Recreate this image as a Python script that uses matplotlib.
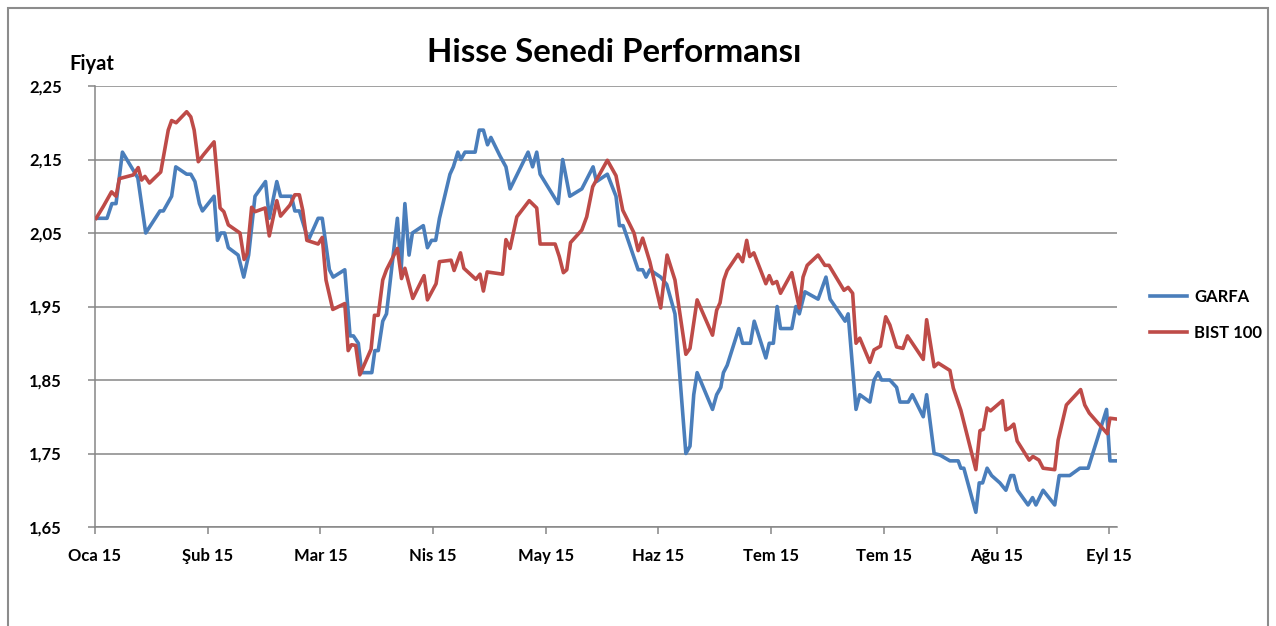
import matplotlib
matplotlib.use("Agg")
import matplotlib.pyplot as plt
from matplotlib.patches import Rectangle
from matplotlib.lines import Line2D

plt.rcParams['font.family'] = ['Lato', 'DejaVu Sans']

# x values are days counted from the start of January 2015
garfa_day = [0.3, 3.2, 4.5, 5.6, 7.3, 11.4, 13.5, 17.3, 18.2, 20.4, 21.5, 24.4, 25.5, 26.6,
             27.8, 28.6, 31.7, 32.6, 33.5, 34.5, 35.5, 38.1, 39.6, 40.9, 42.6, 45.4, 46.4,
             48.4, 49.4, 52.3, 53.2, 54.4, 56.8, 59.4, 60.5, 62.4, 63.4, 66.5, 67.9, 68.8,
             70.1, 71.0, 73.7, 74.5, 75.4, 76.6, 77.6, 80.5, 81.5, 82.5, 83.6, 84.5, 87.4,
             88.5, 89.6, 90.7, 91.7, 94.5, 95.4, 96.6, 97.4, 98.5, 101.2, 102.3, 103.4,
             104.5, 105.4, 107.8, 109.4, 110.5, 115.3, 116.5, 117.6, 118.5, 123.3, 124.5,
             126.4, 129.6, 132.6, 133.5, 136.4, 138.7, 139.6, 140.6, 144.6, 145.8, 146.7,
             147.7, 150.6, 152.2, 154.4, 157.3, 158.4, 159.4, 160.3, 164.4, 165.5, 166.6,
             167.3, 168.3, 171.4, 172.4, 174.5, 175.5, 178.6, 179.5, 180.6, 181.6, 182.5,
             185.5, 186.6, 187.5, 189.0, 192.5, 194.6, 195.7, 199.7, 200.5, 202.6, 203.6,
             206.3, 207.4, 208.5, 209.4, 211.6, 213.4, 214.3, 216.5, 217.6, 220.5, 221.4,
             223.4, 224.9, 227.6, 229.8, 230.5, 231.3, 234.5, 235.4, 236.3, 237.5, 238.7,
             240.9, 242.5, 243.8, 244.6, 245.6, 248.4, 249.6, 250.5, 252.4, 255.5, 256.7,
             259.5, 262.2, 264.4, 269.3, 270.2, 271.8]
garfa_val = [2.07, 2.07, 2.09, 2.09, 2.16, 2.125, 2.05, 2.08, 2.08, 2.10, 2.14, 2.13, 2.13, 2.12,
             2.09, 2.08, 2.10, 2.04, 2.05, 2.05, 2.03, 2.02, 1.99, 2.02, 2.10, 2.12, 2.07,
             2.12, 2.10, 2.10, 2.08, 2.08, 2.04, 2.07, 2.07, 2.00, 1.99, 2.00, 1.91, 1.91,
             1.90, 1.86, 1.86, 1.89, 1.89, 1.93, 1.94, 2.07, 2.00, 2.09, 2.02, 2.05, 2.06,
             2.03, 2.04, 2.04, 2.07, 2.13, 2.14, 2.16, 2.15, 2.16, 2.16, 2.19, 2.19,
             2.17, 2.18, 2.155, 2.14, 2.11, 2.16, 2.14, 2.16, 2.13, 2.09, 2.15,
             2.10, 2.11, 2.14, 2.12, 2.13, 2.10, 2.06, 2.06, 2.00, 2.00, 1.99,
             2.00, 1.99, 1.98, 1.94, 1.75, 1.76, 1.83, 1.86, 1.81, 1.83, 1.84,
             1.86, 1.87, 1.92, 1.90, 1.90, 1.93, 1.88, 1.90, 1.90, 1.95, 1.92,
             1.92, 1.95, 1.94, 1.97, 1.96, 1.99, 1.96, 1.93, 1.94, 1.81, 1.83,
             1.82, 1.85, 1.86, 1.85, 1.85, 1.84, 1.82, 1.82, 1.83, 1.80, 1.83,
             1.75, 1.748, 1.74, 1.74, 1.73, 1.73, 1.67, 1.71, 1.71, 1.73, 1.72,
             1.71, 1.70, 1.72, 1.72, 1.70, 1.68, 1.69, 1.68, 1.70, 1.68, 1.72,
             1.72, 1.73, 1.73, 1.81, 1.74, 1.74]

bist_day = [0.3, 2.2, 4.4, 5.6, 6.5, 10.2, 11.5, 12.4, 13.3, 14.5, 17.5, 19.5, 20.4, 21.6,
            24.4, 25.5, 26.4, 27.5, 28.8, 31.7, 33.3, 34.3, 35.5, 38.6, 39.7, 40.5, 41.7,
            42.6, 45.3, 46.4, 48.4, 49.4, 51.9, 53.2, 54.4, 55.3, 56.4, 59.4, 60.5, 61.5,
            63.3, 66.5, 67.4, 68.3, 69.4, 70.5, 73.5, 74.4, 75.4, 76.6, 77.6, 80.5, 81.6,
            82.5, 84.6, 87.6, 88.5, 90.8, 91.7, 94.8, 95.6, 97.3, 98.2, 101.4, 102.5,
            103.4, 104.4, 108.5, 109.4, 110.5, 112.3, 115.6, 117.6, 118.5, 122.5, 123.6,
            124.7, 125.6, 126.6, 129.6, 130.9, 132.5, 136.4, 138.7, 140.5, 143.5, 144.6,
            145.8, 147.7, 150.6, 152.3, 154.4, 157.3, 158.4, 160.3, 164.4, 165.5, 166.4,
            167.4, 168.3, 171.2, 172.4, 173.5, 174.3, 175.4, 178.6, 179.5, 180.4, 181.5,
            182.5, 185.5, 187.5, 188.5, 189.6, 192.5, 194.3, 195.4, 199.4, 200.5, 201.7,
            202.6, 203.6, 206.3, 207.4, 209.1, 210.5, 211.6, 213.4, 215.1, 216.3, 220.5,
            221.4, 223.4, 224.5, 227.6, 228.5, 230.5, 234.5, 235.6, 236.5, 237.5, 238.4,
            241.6, 242.5, 243.6, 244.6, 245.5, 248.7, 249.7, 251.3, 252.4, 255.5, 256.4,
            258.6, 262.4, 263.5, 264.7, 269.5, 270.2, 271.8]
bist_val = [2.07, 2.086, 2.106, 2.10, 2.124, 2.129, 2.139, 2.122, 2.127, 2.118, 2.133, 2.19,
            2.203, 2.20, 2.215, 2.208, 2.19, 2.147, 2.156, 2.174, 2.084, 2.079, 2.061, 2.05,
            2.014, 2.022, 2.085, 2.079, 2.084, 2.046, 2.094, 2.073, 2.088, 2.102, 2.102,
            2.081, 2.04, 2.035, 2.044, 1.986, 1.946, 1.954, 1.89, 1.898, 1.897, 1.857,
            1.892, 1.938, 1.938, 1.986, 2.00, 2.029, 1.988, 2.002, 1.961, 1.992, 1.959,
            1.981, 2.011, 2.013, 1.999, 2.023, 2.002, 1.987, 1.994, 1.971, 1.997, 1.994,
            2.041, 2.029, 2.072, 2.094, 2.084, 2.035, 2.035, 2.018, 1.996, 2.00, 2.037,
            2.054, 2.072, 2.113, 2.149, 2.128, 2.081, 2.05, 2.026, 2.043, 2.011, 1.948,
            2.02, 1.986, 1.885, 1.893, 1.959, 1.911, 1.945, 1.955, 1.986, 1.999, 2.021,
            2.011, 2.04, 2.018, 2.023, 1.981, 1.992, 1.981, 1.984, 1.968, 1.996, 1.948,
            1.99, 2.006, 2.02, 2.006, 2.006, 1.972, 1.976, 1.968, 1.90, 1.907, 1.874,
            1.891, 1.896, 1.936, 1.925, 1.895, 1.893, 1.91, 1.878, 1.932, 1.868, 1.873,
            1.863, 1.839, 1.809, 1.728, 1.781, 1.783, 1.812, 1.808, 1.822, 1.782, 1.785,
            1.79, 1.767, 1.741, 1.746, 1.741, 1.730, 1.728, 1.768, 1.816, 1.837, 1.816,
            1.805, 1.777, 1.798, 1.797]

tick_days = [0, 30, 60, 90, 120, 150, 180, 210, 240, 270]
tick_labels = ['Oca 15', 'Şub 15', 'Mar 15', 'Nis 15', 'May 15', 'Haz 15',
               'Tem 15', 'Tem 15', 'Ağu 15', 'Eyl 15']
y_ticks = [1.65, 1.75, 1.85, 1.95, 2.05, 2.15, 2.25]

blue = '#4A7EBB'
red = '#BE4B48'
grid_col = '#868686'

fig = plt.figure(figsize=(12.76, 6.26), dpi=100)
ax = fig.add_axes([95 / 1276, 1 - 527 / 626, (1116.7 - 95) / 1276, (527 - 86) / 626])

ax.plot(garfa_day, garfa_val, color=blue, lw=2.6, solid_joinstyle='round', zorder=3)
ax.plot(bist_day, bist_val, color=red, lw=2.6, solid_joinstyle='round', zorder=3)

ax.set_xlim(0, 272)
ax.set_ylim(1.65, 2.25)
ax.set_yticks(y_ticks)
ax.set_yticklabels([f'{v:.2f}'.replace('.', ',') for v in y_ticks])
ax.set_xticks(tick_days)
ax.set_xticklabels(tick_labels)

ax.grid(axis='y', color=grid_col, lw=1.1)
ax.set_axisbelow(True)
for side in ['top', 'right']:
    ax.spines[side].set_visible(False)
for side in ['left', 'bottom']:
    ax.spines[side].set_color(grid_col)
    ax.spines[side].set_linewidth(1.1)

ax.tick_params(axis='y', length=5, width=1.1, color=grid_col, pad=19, labelsize=12)
ax.tick_params(axis='x', length=5, width=1.1, color=grid_col, pad=10, labelsize=12)
for lbl in ax.get_xticklabels() + ax.get_yticklabels():
    lbl.set_fontweight('bold')

fig.text(614.5 / 1276, 1 - 53 / 626, 'Hisse Senedi Performansı', ha='center', va='center',
         fontsize=23.8, fontweight='bold')
fig.text(92 / 1276, 1 - 64 / 626, 'Fiyat', ha='center', va='center',
         fontsize=14.5, fontweight='bold')

handles = [Line2D([], [], color=blue, lw=2.6), Line2D([], [], color=red, lw=2.6)]
leg = fig.legend(handles, ['GARFA', 'BIST 100'], loc='center left',
                 bbox_to_anchor=(1135 / 1276, 1 - 315 / 626), frameon=False,
                 handlelength=2.2, handletextpad=0.45, labelspacing=1.2,
                 prop={'weight': 'bold', 'size': 12})

fig.add_artist(Rectangle((8 / 1276, -0.1), 1260 / 1276, 1.1 - 8 / 626,
                         transform=fig.transFigure, fill=False,
                         edgecolor='#8C8C8C', lw=1.5))

fig.savefig('out.png', dpi=100)
